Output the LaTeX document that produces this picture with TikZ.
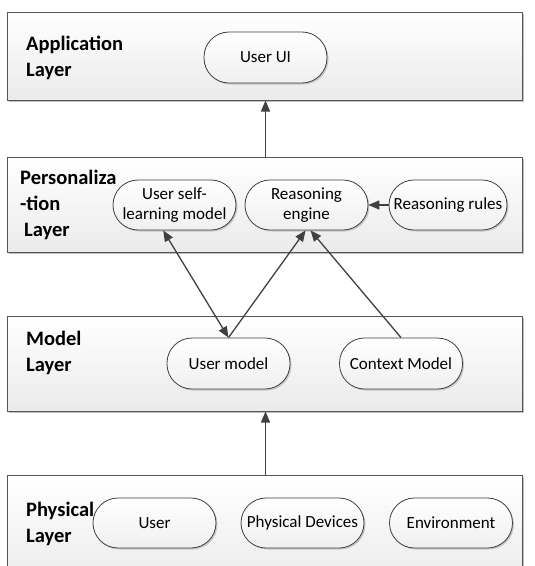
\documentclass[tikz,border=0pt]{standalone}
\usepackage{fontspec}
\setmainfont{Carlito}
\usetikzlibrary{arrows.meta,shadows,calc}

\definecolor{edge}{HTML}{404040}
\definecolor{frame}{HTML}{555555}

\tikzset{
  layerbox/.style={draw=frame, line width=1pt, top color=white, bottom color=black!8,
    minimum width=515pt, inner sep=0pt,
    drop shadow={shadow xshift=2pt, shadow yshift=-2pt, fill=black!25, opacity=1}},
  layerlabel/.style={anchor=west, align=left, inner sep=0pt,
    font=\fontsize{20.5}{26}\selectfont\bfseries},
  comp/.style={draw=edge, line width=0.8pt, rounded corners=25pt,
    top color=white, bottom color=black!6,
    minimum width=123pt, minimum height=51pt, inner sep=1pt, align=center,
    font=\fontsize{17}{20}\selectfont,
    drop shadow={shadow xshift=1.5pt, shadow yshift=-1.5pt, fill=black!22, opacity=1}},
  link/.style={draw=edge, line width=1.3pt, -{Triangle[length=11pt,width=9pt]}},
  duallink/.style={draw=edge, line width=1.3pt, {Triangle[length=11pt,width=9pt]}-{Triangle[length=11pt,width=9pt]}},
}

\begin{document}
\begin{tikzpicture}[x=1pt, y=-1pt]
  \useasboundingbox (0,0) rectangle (535,566);
  \begin{scope}
  \clip (0,0) rectangle (535,566);

  % layer frames
  \node[layerbox, minimum height=88pt] (al) at (264.5,56) {};
  \node[layerbox, minimum height=95pt] (pl) at (264.5,204.5) {};
  \node[layerbox, minimum height=95pt] (ml) at (264.5,363.5) {};
  \node[layerbox, minimum height=110pt] (phl) at (264.5,530) {};

  % layer titles
  \node[layerlabel] (alt) at (26,58) {Application\\Layer};
  \node[layerlabel] (plt) at (20,205) {Personaliza\\-tion\\\hspace*{4pt}Layer};
  \node[layerlabel] (mlt) at (26,352.5) {Model\\Layer};
  \node[layerlabel] (phlt) at (26,523.5) {Physical\\Layer};

  % components
  \node[comp] (ui) at (265.5,57.5) {User UI};
  \node[comp, minimum height=50pt] (usl) at (174.5,205) {User self-\\learning model};
  \node[comp, minimum height=50pt] (re) at (306.5,205) {Reasoning\\engine};
  \node[comp, minimum height=50pt, minimum width=118pt] (rr) at (448,205) {Reasoning rules};
  \node[comp] (um) at (228.5,363.5) {User model};
  \node[comp] (cm) at (401,363.5) {Context Model};
  \node[comp, minimum height=50pt] (usr) at (154.5,523) {User};
  \node[comp, minimum height=50pt] (pd) at (302.5,523) {Physical Devices};
  \node[comp, minimum height=50pt] (env) at (451,523) {Environment};

  % connectors
  \draw[link] (pl.north -| ui) -- (al.south -| ui);
  \draw[link] (phl.north -| ui) -- (ml.south -| ui);
  \draw[link] (rr.west) -- (re.east);
  \draw[duallink] (um.north) -- (usl.246);
  \draw[link] (um.north) -- (re.-92);
  \draw[link] (cm.north) -- (re.-81);
  \end{scope}
\end{tikzpicture}
\end{document}
